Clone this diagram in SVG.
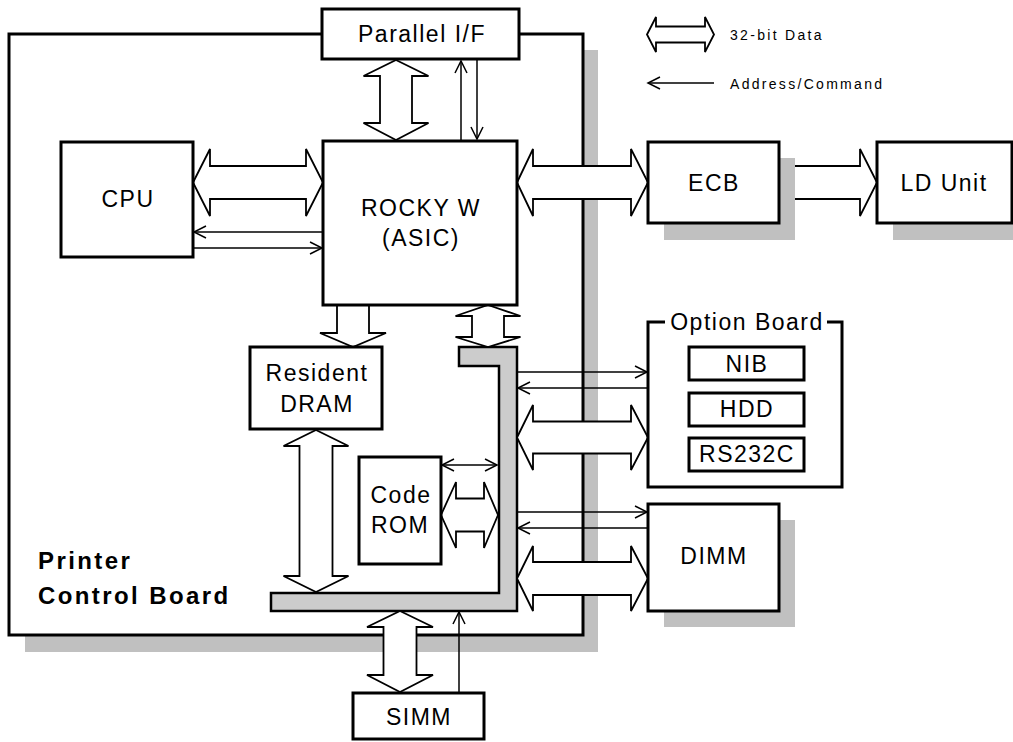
<svg xmlns="http://www.w3.org/2000/svg" width="1013" height="742" viewBox="0 0 1013 742">
<style>
.box{fill:#fff;stroke:#000;stroke-width:3}
.sh{fill:#c0c0c0;stroke:none}
.fat{fill:#fff;stroke:#000;stroke-width:1.8;stroke-linejoin:miter}
.thin{fill:none;stroke:#000;stroke-width:1.5}
.t{font-family:"Liberation Sans",Arial,sans-serif;font-size:23px;letter-spacing:1.5px;text-anchor:middle;fill:#000}
.s{font-family:"Liberation Sans",Arial,sans-serif;font-size:14px;letter-spacing:2.3px;fill:#000}
.b{font-family:"Liberation Sans",Arial,sans-serif;font-size:24px;font-weight:bold;letter-spacing:2.4px;fill:#000}
</style>
<defs>
<marker id="ah" viewBox="-14 -8 16 16" refX="0" refY="0" markerWidth="16" markerHeight="16" markerUnits="userSpaceOnUse" orient="auto-start-reverse">
<path d="M-12,-6 L0,0 L-12,6" fill="none" stroke="#000" stroke-width="1.5"/>
</marker>
</defs>
<rect width="1013" height="742" fill="#fff"/>
<g id="board">
<rect class="sh" x="25" y="50" width="573" height="602"/>
<rect class="box" x="9" y="34" width="574" height="601"/>
<text class="b" x="38" y="569">Printer</text>
<text class="b" x="38" y="604">Control Board</text>
</g>
<g id="bus">
<path d="M459,347 H517 V611 H271 V593 H499 V366 H459 Z" fill="#ccc" stroke="#000" stroke-width="2.5"/>
</g>
<g id="connectors">
<polygon class="fat" points="396,60 428.5,76 412,76 412,123 428.5,123 396,140 363.5,123 380,123 380,76 363.5,76"/>
<line class="thin" x1="461" y1="140" x2="461" y2="61" marker-end="url(#ah)"/>
<line class="thin" x1="477" y1="60" x2="477" y2="139" marker-end="url(#ah)"/>
<polygon class="fat" points="193,182.5 210,149 210,166 306,166 306,149 323,182.5 306,216 306,199 210,199 210,216"/>
<line class="thin" x1="322" y1="232" x2="194" y2="232" marker-end="url(#ah)"/>
<line class="thin" x1="194" y1="248" x2="322" y2="248" marker-end="url(#ah)"/>
<polygon class="fat" points="517,182.5 533,149 533,166 631,166 631,149 648,182.5 631,216 631,199 533,199 533,216"/>
<polygon class="fat" points="779,166 860,166 860,149 877,182.5 860,216 860,199 779,199"/>
<polygon class="fat" points="337,305 369,305 369,333 386,333 353,347 320,333 337,333"/>
<polygon class="fat" points="488,305 520.5,316 504,316 504,337 520.5,337 488,347 455.5,337 472,337 472,316 455.5,316"/>
<polygon class="fat" points="316,430 348.5,446 332.5,446 332.5,576 348.5,576 316,592 283.5,576 299.5,576 299.5,446 283.5,446"/>
<polygon class="fat" points="441,515 456,482 456,498.5 484,498.5 484,482 498,515 484,548 484,531.5 456,531.5 456,548"/>
<line class="thin" x1="442" y1="465" x2="497" y2="465" marker-start="url(#ah)" marker-end="url(#ah)"/>
<line class="thin" x1="518" y1="372" x2="647" y2="372" marker-end="url(#ah)"/>
<line class="thin" x1="647" y1="388" x2="518" y2="388" marker-end="url(#ah)"/>
<polygon class="fat" points="517,437.5 533,405 533,421.5 631,421.5 631,405 648,437.5 631,470 631,453.5 533,453.5 533,470"/>
<line class="thin" x1="518" y1="512" x2="647" y2="512" marker-end="url(#ah)"/>
<line class="thin" x1="647" y1="528" x2="518" y2="528" marker-end="url(#ah)"/>
<polygon class="fat" points="517,578.5 533,546 533,562 631,562 631,546 648,578.5 631,611 631,595 533,595 533,611"/>
<polygon class="fat" points="400,611 433,627 416.5,627 416.5,675 433,675 400,692 367,675 383.5,675 383.5,627 367,627"/>
<line class="thin" x1="459" y1="693" x2="459" y2="612" marker-end="url(#ah)"/>
</g>
<g id="legend">
<polygon class="fat" points="647,34.5 656,17 656,26.5 705,26.5 705,17 714,34.5 705,52 705,42.5 656,42.5 656,52"/>
<text class="s" x="730" y="40">32-bit Data</text>
<line class="thin" x1="714" y1="83" x2="648" y2="83" marker-end="url(#ah)"/>
<text class="s" x="730" y="89">Address/Command</text>
</g>
<g id="parallel">
<rect class="box" x="322" y="9" width="197" height="50"/>
<text class="t" x="422" y="42">Parallel I/F</text>
</g>
<g id="cpu">
<rect class="box" x="61" y="142" width="132" height="115"/>
<text class="t" x="128" y="207">CPU</text>
</g>
<g id="rocky">
<rect class="box" x="323" y="141" width="194" height="164"/>
<text class="t" x="421" y="216">ROCKY W</text>
<text class="t" x="421" y="246">(ASIC)</text>
</g>
<g id="ecb">
<rect class="sh" x="664" y="158" width="131" height="82"/>
<rect class="box" x="648" y="142" width="131" height="81"/>
<text class="t" x="714" y="191">ECB</text>
</g>
<g id="ld">
<rect class="sh" x="893" y="158" width="130" height="82"/>
<rect class="box" x="877" y="142" width="135" height="81"/>
<text class="t" x="944" y="191">LD Unit</text>
</g>
<g id="dram">
<rect class="box" x="250" y="347" width="132" height="82"/>
<text class="t" x="317" y="381">Resident</text>
<text class="t" x="317" y="412">DRAM</text>
</g>
<g id="coderom">
<rect class="box" x="359" y="457" width="82" height="107"/>
<text class="t" x="401" y="503">Code</text>
<text class="t" x="400" y="533">ROM</text>
</g>
<g id="option">
<path d="M665,322 H648 V487 H842 V322 H827" fill="#fff" stroke="#000" stroke-width="3"/>
<text class="t" x="747" y="330">Option Board</text>
<g id="nib"><rect class="box" x="689" y="347" width="115" height="33"/><text class="t" x="747" y="372">NIB</text></g>
<g id="hdd"><rect class="box" x="689" y="393" width="115" height="33"/><text class="t" x="747" y="417">HDD</text></g>
<g id="rs232c"><rect class="box" x="689" y="438" width="115" height="33"/><text class="t" x="747" y="462">RS232C</text></g>
</g>
<g id="dimm">
<rect class="sh" x="664" y="520" width="131" height="107"/>
<rect class="box" x="648" y="504" width="131" height="107"/>
<text class="t" x="714" y="564">DIMM</text>
</g>
<g id="simm">
<rect class="box" x="353" y="693" width="131" height="46"/>
<text class="t" x="419" y="725">SIMM</text>
</g>
</svg>
